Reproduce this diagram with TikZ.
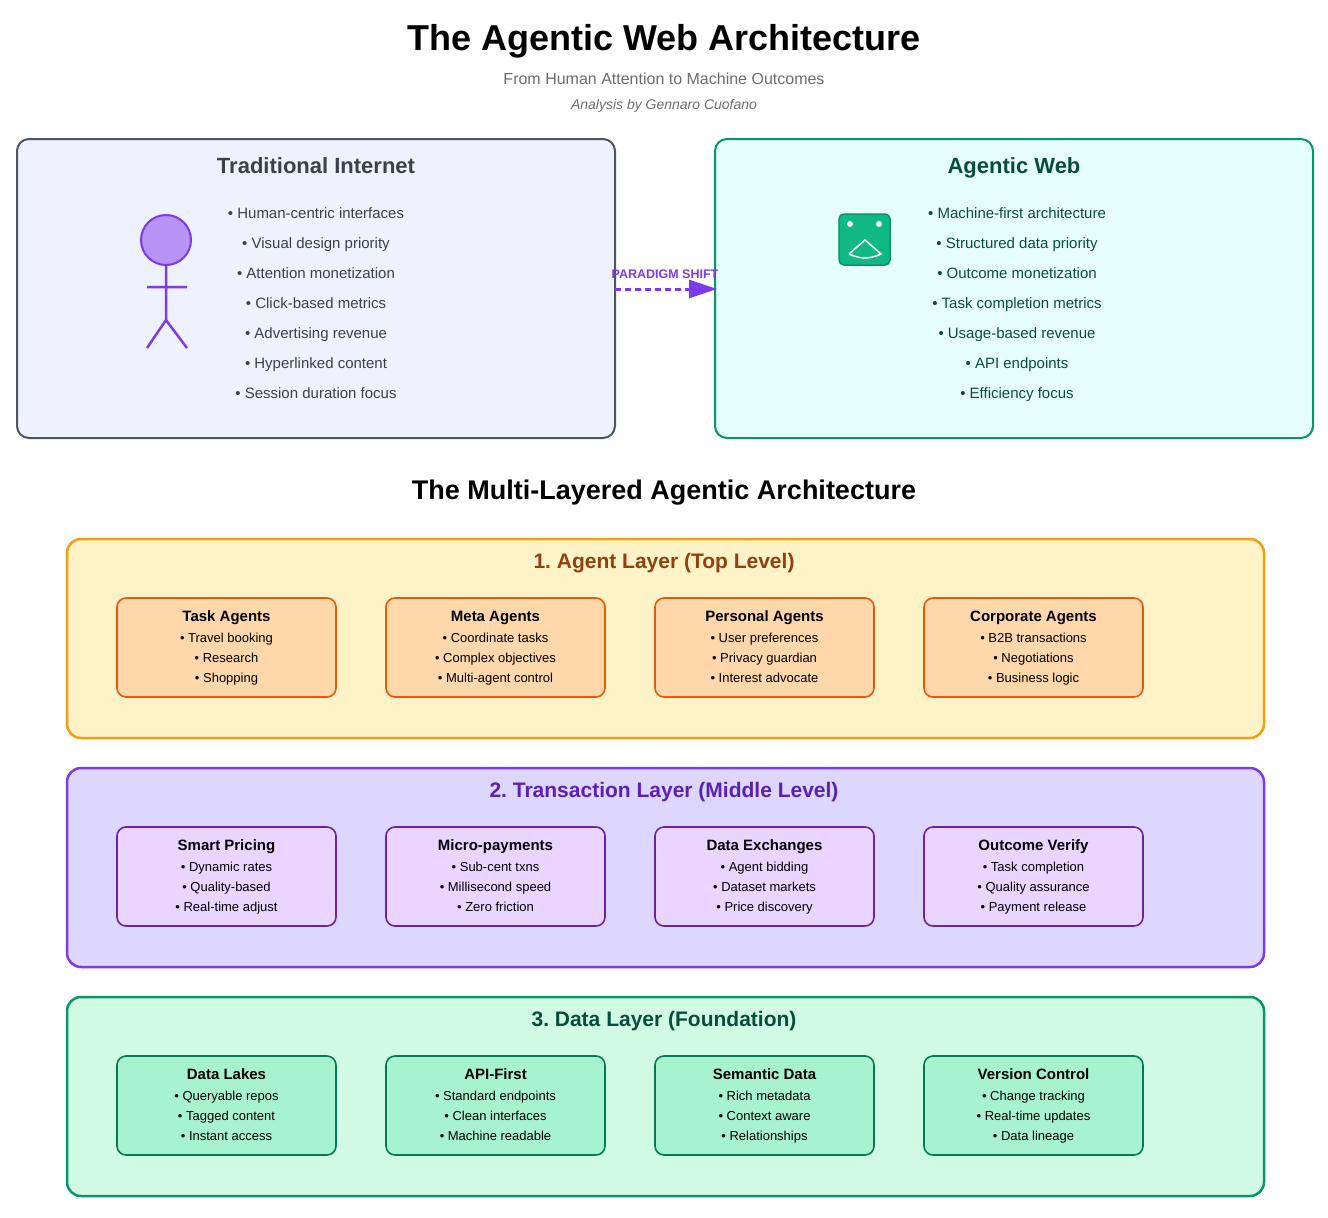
\documentclass[tikz,border=0pt]{standalone}
\usepackage{fontspec}
\setmainfont{Liberation Sans}
\frenchspacing
\usetikzlibrary{arrows.meta}
\definecolor{slate}{HTML}{374151}
\definecolor{slateln}{HTML}{4B5563}
\definecolor{purp}{HTML}{7C3AED}
\definecolor{emer}{HTML}{10B981}
\definecolor{emerd}{HTML}{059669}
\definecolor{forest}{HTML}{064E3B}
\definecolor{tradbg}{HTML}{EEF2FF}
\definecolor{agbg}{HTML}{E6FFFA}
\tikzset{
  every node/.style={text height=.72em, text depth=0pt},
  panel/.style={rounded corners=12pt, line width=2pt},
  layer/.style={rounded corners=14pt, line width=2.5pt},
  card/.style={rounded corners=9pt, line width=1.6pt},
  bul/.style={font=\fontsize{15}{18}\selectfont, text=#1},
  ltitle/.style={font=\bfseries\fontsize{21}{25}\selectfont, text=#1},
  ptitle/.style={font=\bfseries\fontsize{22}{26}\selectfont, text=#1},
  ctitle/.style={font=\bfseries\fontsize{15}{18}\selectfont},
  citem/.style={font=\fontsize{13}{15}\selectfont}
}
\begin{document}
\begin{tikzpicture}[x=1pt, y=-1pt]
    \useasboundingbox(0, 0)rectangle(1328, 1218);
    \node (title) at(664, 47){\bfseries\fontsize{36}{42}\selectfont The Agentic Web Architecture};
    \node[text=gray!85!black] (sub) at(664, 81){\fontsize{16}{19}\selectfont From Human Attention to Machine Outcomes};
    \node[text=gray!85!black] (by) at(664, 106){\itshape\fontsize{14}{17}\selectfont Analysis by Gennaro Cuofano};
    % comparison panels
    \draw[panel, slateln, fill=tradbg](17, 139)rectangle(615, 438);
    \node[ptitle=slate] (tradT) at(316, 170){Traditional Internet};
    \foreach \t [count=\i] in {Human-centric interfaces, Visual design priority, Attention monetization, Click-based metrics, Advertising revenue, Hyperlinked content, Session duration focus}
        \node[bul=slate] (trad\i) at(316, 215+30*\i-30){• \t};
    \draw[purp, line width=2pt, fill=purp!55](166, 240)circle(25);
    \draw[purp, line width=2.5pt](166, 265)--(166, 320)(147, 287)--(187, 287)(147, 348)--(166, 320)--(187, 348);
    \draw[panel, emerd, fill=agbg](715, 139)rectangle(1313, 438);
    \node[ptitle=forest] (agT) at(1014, 170){Agentic Web};
    \foreach \t [count=\i] in {Machine-first architecture, Structured data priority, Outcome monetization, Task completion metrics, Usage-based revenue, API endpoints, Efficiency focus}
        \node[bul=forest] (ag\i) at(1017, 215+30*\i-30){• \t};
    \draw[emerd, line width=1.5pt, fill=emer, rounded corners=5pt](839, 214)rectangle(890, 265);
    \fill[white](850, 224)circle(3)(879, 224)circle(3);
    \draw[white, line width=1.5pt](849, 254)--(865, 240)--(881, 254)to[bend left=25](849, 254);
    % paradigm shift
    \coordinate (shA) at(615, 289);
    \coordinate (shB) at(717, 289);
    \draw[purp, line width=3pt, dash pattern=on 6pt off 4pt, -{Triangle[length=28pt, width=18pt]}](shA)--(shB);
    \node[text=purp] (shift) at(665, 275){\bfseries\fontsize{12.5}{14}\selectfont PARADIGM SHIFT};
    \node (multi) at(664, 496){\bfseries\fontsize{27}{32}\selectfont The Multi-Layered Agentic Architecture};
    % layers
    \foreach \y/\lf/\ls/\lt/\cf/\cs/\name in {
        539/FEF3C7/F59E0B/92400E/FED7AA/EA580C/1. Agent Layer (Top Level),
        768/DDD6FE/7C3AED/5B21B6/E9D5FF/6B21A8/2. Transaction Layer (Middle Level),
        997/D1FAE5/059669/064E3B/A7F3D0/047857/3. Data Layer (Foundation)}{
        \definecolor{lf}{HTML}{\lf}\definecolor{ls}{HTML}{\ls}\definecolor{lt}{HTML}{\lt}
        \definecolor{cf}{HTML}{\cf}\definecolor{cs}{HTML}{\cs}
        \draw[layer, ls, fill=lf](67, \y)rectangle(1264, \y+199);
        \node[ltitle=lt] at(664, \y+26){\name};
        \foreach \c in {0, 1, 2, 3}
            \draw[card, cs, fill=cf](117+269*\c, \y+59)rectangle(336+269*\c, \y+158);
    }
    % card texts
    \foreach \y/\c/\h/\a/\b/\d in {
        539/0/Task Agents/Travel booking/Research/Shopping,
        539/1/Meta Agents/Coordinate tasks/Complex objectives/Multi-agent control,
        539/2/Personal Agents/User preferences/Privacy guardian/Interest advocate,
        539/3/Corporate Agents/B2B transactions/Negotiations/Business logic,
        768/0/Smart Pricing/Dynamic rates/Quality-based/Real-time adjust,
        768/1/Micro-payments/Sub-cent txns/Millisecond speed/Zero friction,
        768/2/Data Exchanges/Agent bidding/Dataset markets/Price discovery,
        768/3/Outcome Verify/Task completion/Quality assurance/Payment release,
        997/0/Data Lakes/Queryable repos/Tagged content/Instant access,
        997/1/API-First/Standard endpoints/Clean interfaces/Machine readable,
        997/2/Semantic Data/Rich metadata/Context aware/Relationships,
        997/3/Version Control/Change tracking/Real-time updates/Data lineage}{
        \node[ctitle] at(226.5+269*\c, \y+79){\h};
        \node[citem] at(226.5+269*\c, \y+100){• \a};
        \node[citem] at(226.5+269*\c, \y+120){• \b};
        \node[citem] at(226.5+269*\c, \y+140){• \d};
    }
\end{tikzpicture}
\end{document}
